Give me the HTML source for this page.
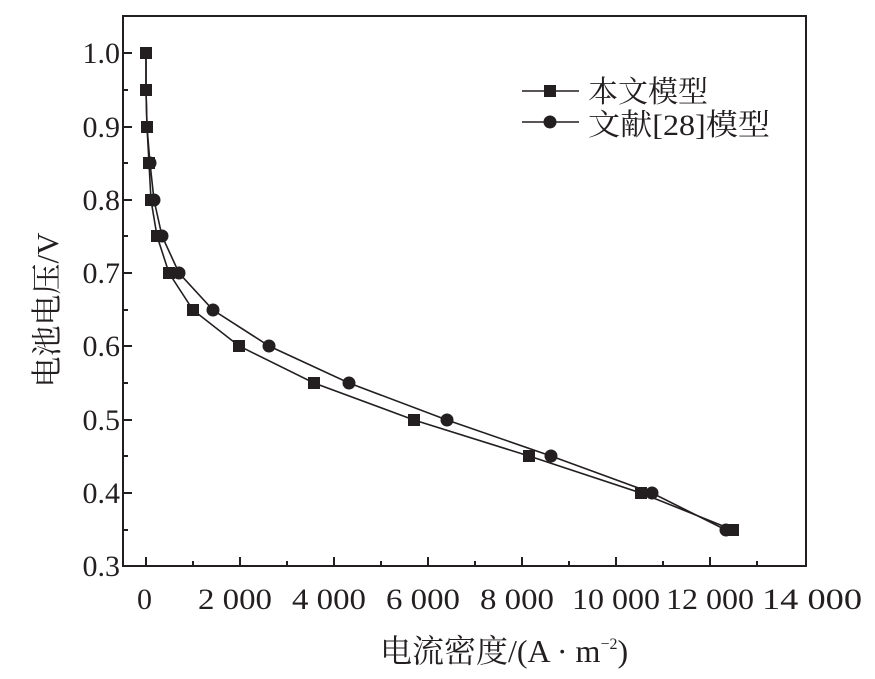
<!DOCTYPE html>
<html><head><meta charset="utf-8"><style>
html,body{margin:0;padding:0;background:#fff;}
svg text{font-family:"Liberation Serif","Noto Serif CJK SC",serif;fill:#231f20;}
</style></head><body>
<svg width="875" height="674" viewBox="0 0 875 674" xmlns="http://www.w3.org/2000/svg">
<g stroke="#231f20" stroke-width="2" fill="none">
<rect x="123" y="16" width="683" height="550"/>
<path d="M123 53h9M123 127h9M123 200h9M123 273h9M123 346h9M123 420h9M123 493h9
M123 90h5M123 163h5M123 236h5M123 310h5M123 383h5M123 456h5M123 530h5"/>
<path d="M146 566v-9M240 566v-9M334 566v-9M428 566v-9M522 566v-9M616 566v-9M710 566v-9
M193 566v-5M287 566v-5M381 566v-5M475 566v-5M569 566v-5M663 566v-5M757 566v-5"/>
</g>
<g font-size="30" text-anchor="end">
<text x="120" y="63">1.0</text><text x="120" y="137">0.9</text><text x="120" y="210">0.8</text>
<text x="120" y="283">0.7</text><text x="120" y="356">0.6</text><text x="120" y="430">0.5</text>
<text x="120" y="503">0.4</text><text x="120" y="576">0.3</text>
</g>
<g font-size="30">
<text x="137" y="609">0</text>
<text x="198" y="609" textLength="74" lengthAdjust="spacingAndGlyphs">2 000</text>
<text x="292" y="609" textLength="74" lengthAdjust="spacingAndGlyphs">4 000</text>
<text x="386" y="609" textLength="74" lengthAdjust="spacingAndGlyphs">6 000</text>
<text x="480" y="609" textLength="74" lengthAdjust="spacingAndGlyphs">8 000</text>
<text x="572" y="609" textLength="88" lengthAdjust="spacingAndGlyphs">10 000</text>
<text x="666" y="609" textLength="88" lengthAdjust="spacingAndGlyphs">12 000</text>
<text x="762" y="609" textLength="100" lengthAdjust="spacingAndGlyphs">14 000</text>
</g>
<text x="380" y="662" font-size="32">电流密度/(A · m<tspan font-size="16" dy="-13">−2</tspan><tspan dy="13">)</tspan></text>
<text transform="translate(58,310) rotate(-90)" font-size="31" text-anchor="middle">电池电压/V</text>
<g stroke="#231f20" stroke-width="1.6" fill="none">
<polyline points="146,53 146,90 147,127 149,163 151,200 157,236 169,273 193,310 239,346 314,383 414,420 529,456 641,493 733,530"/>
<polyline points="146,53 146,90 147,127 150,163 154,200 162,236 179,273 213,310 269,346 349,383 447,420 551,456 652,493 726,530"/>
<path d="M522 91h57M522 122h57"/>
</g>
<g fill="#231f20">
<circle cx="150" cy="163" r="6.5"/><circle cx="154" cy="200" r="6.5"/><circle cx="162" cy="236" r="6.5"/>
<circle cx="179" cy="273" r="6.5"/><circle cx="213" cy="310" r="6.5"/><circle cx="269" cy="346" r="6.5"/>
<circle cx="349" cy="383" r="6.5"/><circle cx="447" cy="420" r="6.5"/><circle cx="551" cy="456" r="6.5"/>
<circle cx="652" cy="493" r="6.5"/><circle cx="726" cy="530" r="6.5"/>
<g transform="translate(-6,-6)">
<rect x="146" y="53" width="12" height="12"/><rect x="146" y="90" width="12" height="12"/>
<rect x="147" y="127" width="12" height="12"/><rect x="149" y="163" width="12" height="12"/>
<rect x="151" y="200" width="12" height="12"/><rect x="157" y="236" width="12" height="12"/>
<rect x="169" y="273" width="12" height="12"/><rect x="193" y="310" width="12" height="12"/>
<rect x="239" y="346" width="12" height="12"/><rect x="314" y="383" width="12" height="12"/>
<rect x="414" y="420" width="12" height="12"/><rect x="529" y="456" width="12" height="12"/>
<rect x="641" y="493" width="12" height="12"/><rect x="733" y="530" width="12" height="12"/>
</g>
<rect x="544" y="85" width="12" height="12"/>
<circle cx="550" cy="122" r="6.5"/>
</g>
<text x="588" y="102" font-size="30">本文模型</text>
<text x="588" y="135" font-size="30" textLength="182" lengthAdjust="spacingAndGlyphs">文献[28]模型</text>
</svg>
</body></html>
